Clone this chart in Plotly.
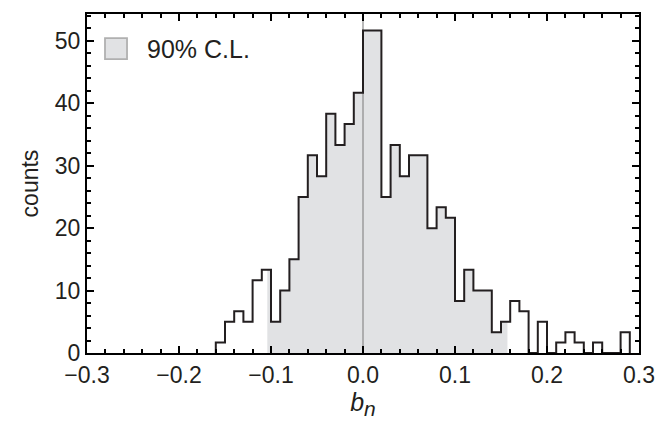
import plotly.graph_objects as go

# ---- data ----
bin_start = -0.16
bin_width = 0.01
counts = [1.67, 5.0, 6.67, 5.0, 11.67, 13.33, 5.0, 10.0, 15.0, 25.0,
          31.67, 28.33, 38.33, 33.33, 36.67, 41.67, 51.67, 51.67, 25.0, 33.33,
          28.33, 31.67, 31.67, 20.0, 23.33, 21.67, 8.33, 13.33, 10.0, 10.0,
          3.33, 5.0, 8.33, 6.67, 0.0, 5.0, 0.0, 1.67, 3.33, 1.67,
          0.0, 1.67, 0.0, 0.0, 3.33]
cl_low = -0.104
cl_high = 0.157
x_range = [-0.3, 0.3]
y_range = [0, 54.3]
x_ticks = [-0.3, -0.2, -0.1, 0.0, 0.1, 0.2, 0.3]
y_ticks = [0, 10, 20, 30, 40, 50]
legend_label = "90% C.L."

# ---- build step paths ----
edges = [round(bin_start + i * bin_width, 4) for i in range(len(counts) + 1)]
hx, hy = [edges[0]], [0]
for i, c in enumerate(counts):
    hx += [edges[i], edges[i + 1]]
    hy += [c, c]
hx.append(edges[-1]); hy.append(0)

fx, fy = [cl_low], [0]
for i, c in enumerate(counts):
    a = max(edges[i], cl_low)
    b = min(edges[i + 1], cl_high)
    if a < b:
        fx += [a, b]
        fy += [c, c]
fx.append(cl_high); fy.append(0)

FILL = "#e1e2e4"
INK = "#231f20"

fig = go.Figure()
fig.add_trace(go.Scatter(x=fx, y=fy, mode="lines", fill="toself", fillcolor=FILL,
                         line=dict(width=0), hoverinfo="skip", showlegend=False))
# zero reference line
fig.add_trace(go.Scatter(x=[0, 0], y=y_range, mode="lines",
                         line=dict(color="#8a8a8a", width=1.2),
                         hoverinfo="skip", showlegend=False))
fig.add_trace(go.Scatter(x=hx, y=hy, mode="lines", line=dict(color=INK, width=2),
                         showlegend=False))

axis_common = dict(
    showline=True, linewidth=2, linecolor="black", mirror="allticks",
    ticks="inside", ticklen=7, tickwidth=2, tickcolor="black",
    showgrid=False, zeroline=False, automargin=False,
)

fig.update_layout(
    width=655, height=422,
    margin=dict(l=87, r=16, t=14, b=69),
    paper_bgcolor="white", plot_bgcolor="white",
    font=dict(family="Liberation Sans, Arial, sans-serif", size=23, color=INK),
    showlegend=False,
    xaxis=dict(range=x_range, tickmode="array", tickvals=x_ticks, tickformat=".1f",
               minor=dict(dtick=0.02, tick0=0, ticks="inside", ticklen=4, tickwidth=1.5,
                          tickcolor="black", showgrid=False),
               title=dict(text="<i>b</i><sub><span style=\"font-size:21px\"><i>n</i></span></sub>",
                          standoff=4, font=dict(size=25)),
               **axis_common),
    yaxis=dict(range=y_range, tickmode="array", tickvals=y_ticks,
               minor=dict(dtick=2, tick0=0, ticks="inside", ticklen=4, tickwidth=1.5,
                          tickcolor="black", showgrid=False),
               title=dict(text="counts", standoff=10, font=dict(size=23)),
               **axis_common),
    shapes=[dict(type="rect", xref="paper", yref="paper",
                 x0=0.0326, x1=0.0725, y0=0.867, y1=0.929,
                 fillcolor=FILL, line=dict(color="#b0b0b0", width=1.8))],
    annotations=[dict(text=legend_label, xref="paper", yref="paper",
                      x=0.105, y=0.898, xanchor="left", yanchor="middle",
                      showarrow=False, font=dict(size=25, color=INK))],
)

fig.write_html("out.html", config={"displayModeBar": False},
               post_script="document.body.style.margin='0px';document.body.style.padding='0px';")
